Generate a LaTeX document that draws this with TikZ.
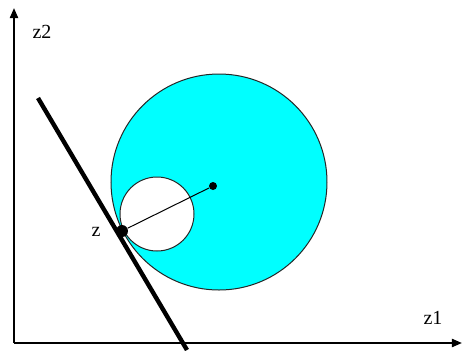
\documentclass[tikz,border=0pt]{standalone}
\usepackage{fontspec}
\setmainfont{Liberation Serif}
\usetikzlibrary{arrows.meta, positioning}
\definecolor{discblue}{RGB}{0, 255, 255}

\begin{document}
\begin{tikzpicture}[
    x=0.5pt, y=-0.5pt,
    axis/.style={line width=1pt, -{Triangle[length=5pt, width=4pt]}},
    disc/.style={draw=black!85, line width=0.5pt},
    dot/.style={circle, fill=black, inner sep=0pt, minimum size=#1},
    radiusline/.style={line width=0.5pt},
    bound/.style={line width=2.2pt},
    label/.style={font=\fontsize{10}{12}\selectfont, inner sep=0pt}
]
    \useasboundingbox (0,0) rectangle (462,350);

    % axes
    \coordinate (origin) at (14,343);
    \coordinate (ytip) at (14,8);
    \coordinate (xtip) at (462,343);
    \draw[axis] (origin) -- (ytip);
    \draw[axis] (origin) -- (xtip);
    \node[label] (z2) at (42,32) {z2};
    \node[label] (z1) at (433,318) {z1};

    % discs
    \fill[discblue] (219,182) circle [radius=108];
    \draw[disc] (219,182) circle [radius=108];
    \filldraw[disc, fill=white] (157,214) circle [radius=37];

    % centre, tangent point and line
    \node[dot=4pt] (centre) at (213,186) {};
    \node[dot=6pt] (N) at (122,231) {};
    \draw[radiusline] (centre) -- (N);
    \coordinate (linetop) at (38,98);
    \coordinate (linebot) at (187,350);
    \draw[bound] (linetop) -- (linebot);
    \node[label] (zlabel) at (96,232) {z};
\end{tikzpicture}
\end{document}
